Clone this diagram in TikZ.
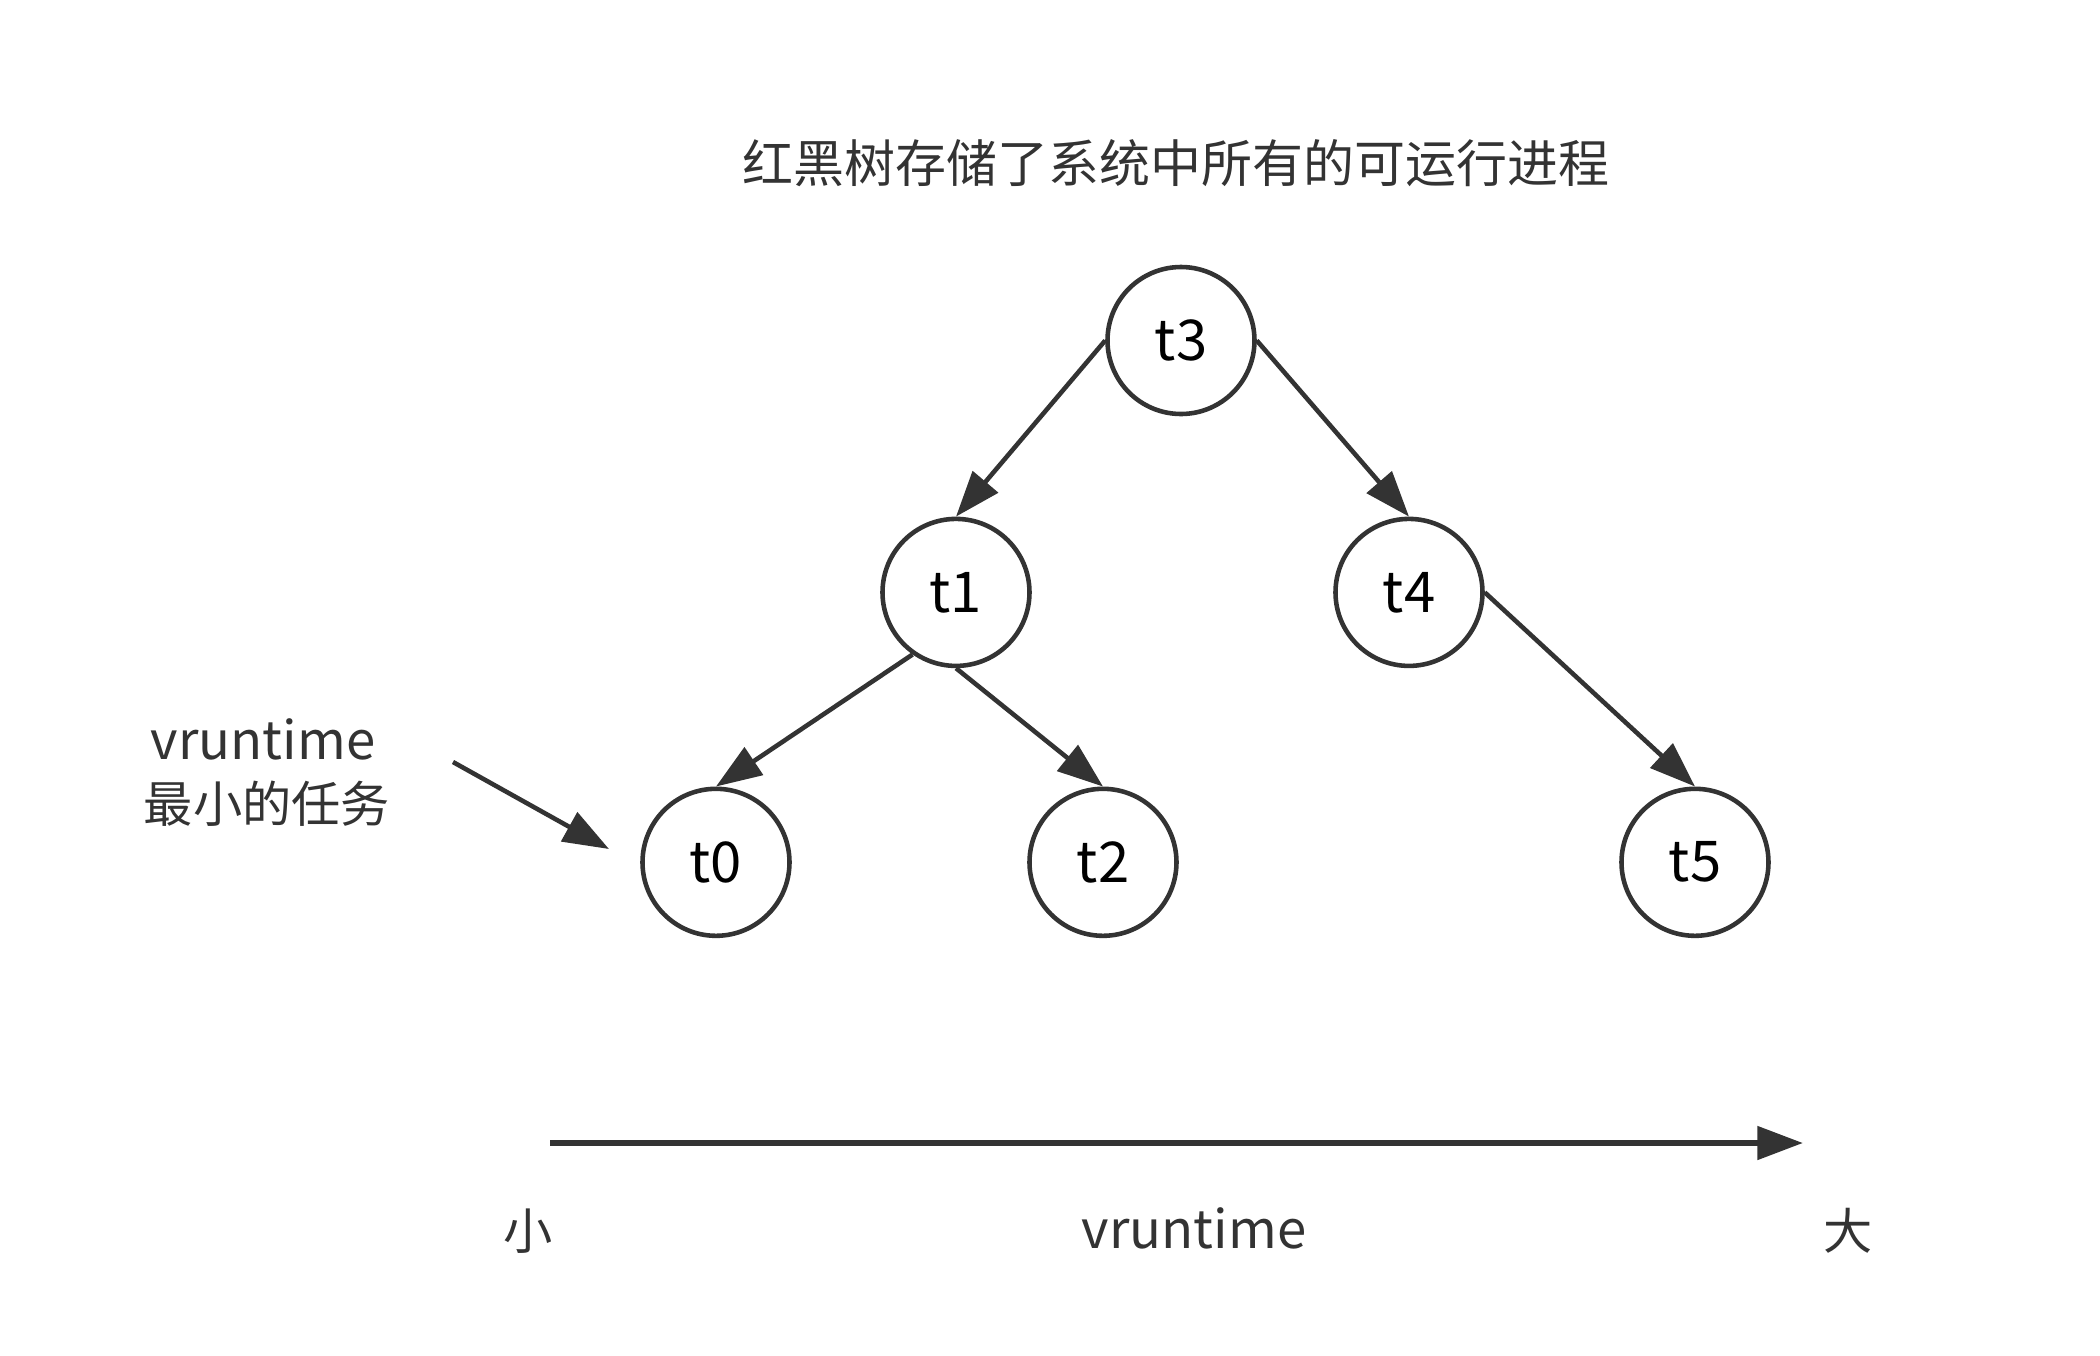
\documentclass[tikz,border=0pt]{standalone}
\usepackage{fontspec}
\setmainfont{Noto Sans CJK SC}
\usepackage{tikz}
\usetikzlibrary{arrows.meta}

\definecolor{ink}{HTML}{333333}

\begin{document}
\begin{tikzpicture}[>={Triangle[length=13pt,width=9.3pt]},thick,
        task node/.style={circle,draw=ink,line width=1.3pt,minimum size=1.47cm,inner sep=0pt,font=\fontsize{16}{18}\selectfont},
        link/.style={->,draw=ink,fill=ink,line width=1.3pt}]

    \useasboundingbox (0,0) rectangle (21,-13.56);

    \node[font=\fontsize{14.5}{17}\selectfont, text=ink] (title) at (11.76,-1.63) {红黑树存储了系统中所有的可运行进程};

    \node[task node] (t3) at (11.81,-3.405) {t3};
    \node[task node] (t1) at (9.56,-5.924) {t1};
    \node[task node] (t4) at (14.09,-5.924) {t4};
    \node[task node] (t0) at (7.16,-8.623) {t0};
    \node[task node] (t2) at (11.03,-8.623) {t2};
    \node[task node] (t5) at (16.95,-8.623) {t5};

    \path[every edge/.style={link,draw}]
    (t3.west) edge (t1.north)
    (t3.east) edge (t4.north)
    (t1.235) edge (t0.north)
    (t1.south) edge (t2.north)
    (t4.east) edge (t5.north);

    % label for the smallest task
    \node[font=\fontsize{15}{18}\selectfont, text=ink] (minlabel) at (2.63,-7.39) {vruntime};
    \node[font=\fontsize{14}{17}\selectfont, text=ink] (mintext) at (2.67,-8.04) {最小的任务};
    \coordinate (pfrom) at (4.53,-7.62);
    \coordinate (pto) at (6.09,-8.49);
    \draw[link] (pfrom) -- (pto);

    % vruntime axis
    \coordinate (axstart) at (5.50,-11.43);
    \coordinate (axend) at (18.03,-11.43);
    \draw[link, line width=1.7pt] (axstart) -- (axend);

    \node[font=\fontsize{14}{17}\selectfont, text=ink] (small) at (5.28,-12.31) {小};
    \node[font=\fontsize{15}{18}\selectfont, text=ink] (axlabel) at (11.94,-12.28) {vruntime};
    \node[font=\fontsize{14}{17}\selectfont, text=ink] (big) at (18.48,-12.31) {大};

\end{tikzpicture}
\end{document}
